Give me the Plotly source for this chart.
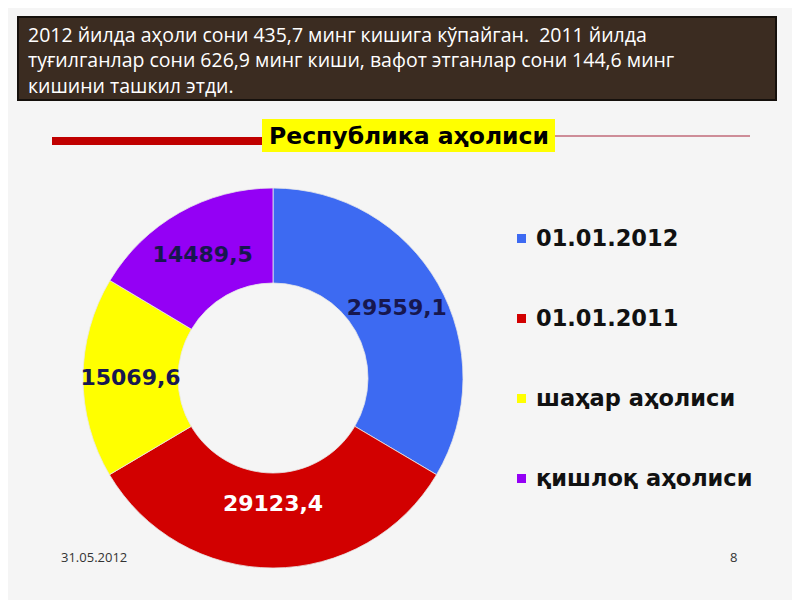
import plotly.graph_objects as go

# ---- data ----
labels = ["01.01.2012", "01.01.2011", "шаҳар аҳолиси", "қишлоқ аҳолиси"]
values = [29559.1, 29123.4, 15069.6, 14489.5]
value_text = ["29559,1", "29123,4", "15069,6", "14489,5"]
colors = ["#3d6af2", "#d20000", "#ffff00", "#9400f5"]
label_colors = ["#17174f", "#ffffff", "#17174f", "#17174f"]

header_lines = [
    "2012 йилда аҳоли сони 435,7 минг кишига кўпайган.  2011 йилда",
    "туғилганлар сони 626,9 минг киши, вафот этганлар сони 144,6 минг",
    "кишини ташкил этди.",
]
title_text = "Республика аҳолиси"
footer_date = "31.05.2012"
page_no = "8"

W, H = 800, 600
OFF = 8  # page body margin in the browser


def px(x):
    return (x - OFF) / W


def py(y):
    return 1 - (y - OFF) / H


fig = go.Figure()

fig.add_trace(go.Pie(
    labels=labels,
    values=values,
    text=value_text,
    textinfo="text",
    textposition="inside",
    insidetextorientation="horizontal",
    textfont=dict(family="DejaVu Sans", size=22, color=label_colors, weight="bold"),
    marker=dict(colors=colors, line=dict(color="#e8e8e8", width=0.8)),
    hole=0.5,
    sort=False,
    direction="clockwise",
    rotation=0,
    showlegend=False,
    hoverinfo="skip",
    domain=dict(x=[px(83), px(463)], y=[py(568), py(188)]),
))

shapes = []
annotations = []

# header box
shapes.append(dict(type="rect", xref="paper", yref="paper",
                   x0=px(18), x1=px(776), y0=py(100), y1=py(17),
                   fillcolor="#3b2c21", line=dict(color="#15100c", width=2), layer="below"))
annotations.append(dict(xref="paper", yref="paper", x=px(26), y=py(60),
                        xanchor="left", yanchor="middle", align="left",
                        text="<br>".join(header_lines), showarrow=False,
                        font=dict(family="Open Sans", size=19.5, color="#ffffff")))

# title decoration
shapes.append(dict(type="line", xref="paper", yref="paper",
                   x0=px(52), x1=px(263), y0=py(141), y1=py(141),
                   line=dict(color="#c00000", width=8)))
shapes.append(dict(type="line", xref="paper", yref="paper",
                   x0=px(555), x1=px(750), y0=py(136), y1=py(136),
                   line=dict(color="#c06a78", width=1.5)))
shapes.append(dict(type="rect", xref="paper", yref="paper",
                   x0=px(262), x1=px(555), y0=py(152), y1=py(119),
                   fillcolor="#ffff00", line=dict(width=0)))
annotations.append(dict(xref="paper", yref="paper", x=px(409), y=py(136),
                        xanchor="center", yanchor="middle", text=title_text, showarrow=False,
                        font=dict(family="DejaVu Sans", size=23.5, color="#000000", weight="bold")))

# legend
leg_y = [238, 318, 398, 478]
for lab, col, yy in zip(labels, colors, leg_y):
    shapes.append(dict(type="rect", xref="paper", yref="paper",
                       x0=px(517), x1=px(526), y0=py(yy + 5), y1=py(yy - 4),
                       fillcolor=col, line=dict(width=0)))
    annotations.append(dict(xref="paper", yref="paper", x=px(534), y=py(yy),
                            xanchor="left", yanchor="middle", text=lab, showarrow=False,
                            font=dict(family="DejaVu Sans", size=22.5, color="#111111", weight="bold")))

# footer
annotations.append(dict(xref="paper", yref="paper", x=px(59), y=py(557),
                        xanchor="left", yanchor="middle", text=footer_date, showarrow=False,
                        font=dict(family="Open Sans", size=13, color="#333333")))
annotations.append(dict(xref="paper", yref="paper", x=px(739), y=py(557),
                        xanchor="right", yanchor="middle", text=page_no, showarrow=False,
                        font=dict(family="Open Sans", size=13, color="#333333")))

fig.update_layout(
    width=W, height=H,
    margin=dict(l=0, r=0, t=0, b=0),
    paper_bgcolor="#f5f5f5",
    plot_bgcolor="#f5f5f5",
    shapes=shapes,
    annotations=annotations,
    uniformtext=dict(minsize=22, mode="show"),
)

fig.write_html("out.html")
